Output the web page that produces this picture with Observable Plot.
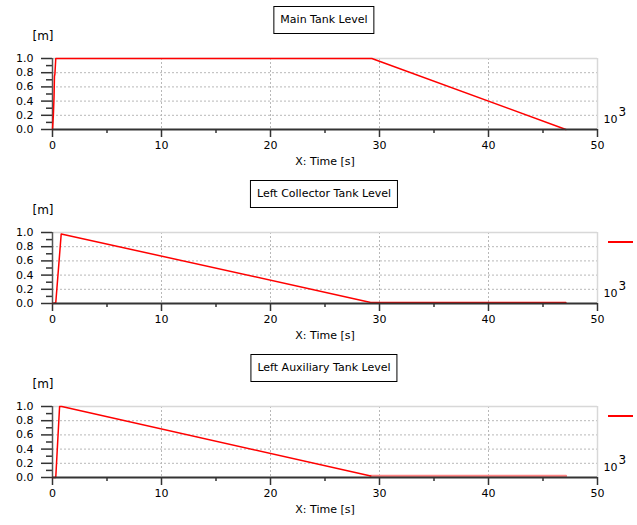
<!DOCTYPE html>
<html>
<head>
<meta charset="utf-8">
<script src="https://cdn.jsdelivr.net/npm/d3@7"></script>
<script src="https://cdn.jsdelivr.net/npm/@observablehq/plot@0.6"></script>
<style>
  body { margin: 0; background: #fff; font-family: "DejaVu Sans", sans-serif; }
  #wrap { width: 637px; }
  .panel { position: relative; width: 637px; height: 174px; }
  .panel svg { display: block; }
  .title { position: absolute; top: 6px; height: 26px; line-height: 26px; border: 1px solid #000;
           font-size: 11px; padding: 0 6px; transform: translateX(-50%); left: 324px; white-space: nowrap; background: #fff; }
  .legend { position: absolute; left: 608px; width: 25px; top: 67px; height: 1.5px; background: #ff0000; }
</style>
</head>
<body>
<div id="wrap"></div>
<script>
// ---- data ----
const titles = ["Main Tank Level", "Left Collector Tank Level", "Left Auxiliary Tank Level"];
const xMajorTicks = [0, 10, 20, 30, 40, 50];
const xMinorTicks = [5, 15, 25, 35, 45];
const yMajorTicks = [0, 0.2, 0.4, 0.6, 0.8, 1.0];
const yMinorTicks = [0.1, 0.3, 0.5, 0.7, 0.9];
const xGrid = [10, 20, 30, 40];
const yGrid = [0.2, 0.4, 0.6, 0.8];

const mainT = [0, 0.08, 0.14, 0.18, 0.22, 0.3, 29.3, 47.1];
const mainV = [0, 0.2, 0.45, 0.75, 0.78, 1.0, 1.0, 0.0];

const collT = [0, 0.3, 0.8, 29.2, 47.1];
const collV = [0, 0.01, 0.98, 0.015, 0.015];

const auxT = [0, 0.3, 0.65, 0.85, 29.2];
const auxV = [0, 0.0, 1.0, 1.0, 0.022];
const auxTailT = [29.2, 47.1];
const auxTailV = [0.022, 0.022];

const toRows = (t, v) => t.map((x, i) => ({t: x, v: v[i]}));

const panels = [
  {title: titles[0], series: [{rows: toRows(mainT, mainV), stroke: "#ff0000", w: 1.5}], legend: false},
  {title: titles[1], series: [{rows: toRows(collT, collV), stroke: "#ff0000", w: 1.5}], legend: true},
  {title: titles[2], series: [{rows: toRows(auxTailT, auxTailV), stroke: "#ff8585", w: 2.5},
                              {rows: toRows(auxT, auxV), stroke: "#ff0000", w: 1.5}], legend: true}
];

const wrap = document.getElementById("wrap");
for (const p of panels) {
  const div = document.createElement("div");
  div.className = "panel";
  const chart = Plot.plot({
    width: 637, height: 174,
    marginLeft: 52, marginRight: 40, marginTop: 58, marginBottom: 45,
    x: {domain: [0, 50]},
    y: {domain: [0, 1]},
    style: {fontFamily: "DejaVu Sans", fontSize: "11px", color: "#000", background: "transparent", overflow: "visible"},
    marks: [
      Plot.gridX(xGrid, {stroke: "#b8b8b8", strokeOpacity: 1, strokeDasharray: "2,2"}),
      Plot.gridY(yGrid, {stroke: "#b8b8b8", strokeOpacity: 1, strokeDasharray: "2,2"}),
      Plot.ruleY([1], {stroke: "#d8d8d8", strokeWidth: 1.5}),
      Plot.ruleX([50], {stroke: "#d8d8d8", strokeWidth: 1.5}),
      Plot.axisY(yMajorTicks, {tickSize: 11, tickPadding: 8, stroke: "#333", strokeWidth: 1.5, tickFormat: d3.format(".1f"), label: null, fill: "#000"}),
      Plot.axisY(yMinorTicks, {tickSize: 6, tickPadding: 0, stroke: "#333", strokeWidth: 1.5, tickFormat: () => "", label: null}),
      Plot.axisX(xMajorTicks, {tickSize: 8, tickPadding: 4, stroke: "#333", strokeWidth: 1.5, label: null, fill: "#000"}),
      Plot.axisX(xMinorTicks, {tickSize: 4, tickPadding: 0, stroke: "#333", strokeWidth: 1.5, tickFormat: () => "", label: null}),
      Plot.ruleX([0], {stroke: "#555", strokeWidth: 1.5}),
      ...p.series.map(s => Plot.line(s.rows, {x: "t", y: "v", stroke: s.stroke, strokeWidth: s.w})),
      Plot.ruleY([0], {stroke: "#333", strokeWidth: 2}),
      Plot.text(["[m]"], {text: d => d, frameAnchor: "top-left", dx: -20, dy: -27, textAnchor: "start", fontSize: 12}),
      Plot.text(["X: Time [s]"], {text: d => d, frameAnchor: "bottom", dx: 0, dy: 35, fontSize: 11}),
      Plot.text(["10"], {text: d => d, frameAnchor: "bottom-right", dx: 6, dy: -7, textAnchor: "start", fontSize: 11}),
      Plot.text(["3"], {text: d => d, frameAnchor: "bottom-right", dx: 21, dy: -14, textAnchor: "start", fontSize: 12})
    ]
  });
  div.appendChild(chart);
  const t = document.createElement("div");
  t.className = "title";
  t.textContent = p.title;
  div.appendChild(t);
  if (p.legend) {
    const l = document.createElement("div");
    l.className = "legend";
    div.appendChild(l);
  }
  wrap.appendChild(div);
}
</script>
</body>
</html>
